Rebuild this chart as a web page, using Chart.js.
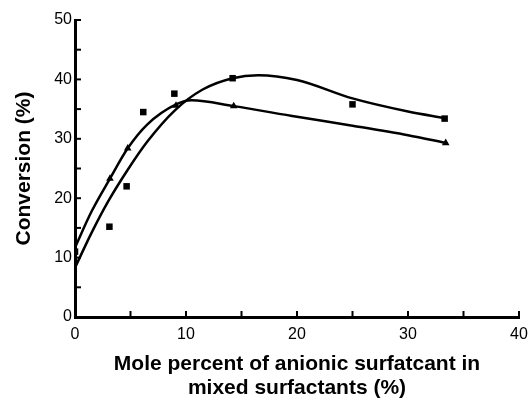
<!DOCTYPE html>
<html>
<head>
<meta charset="utf-8">
<script src="https://cdn.jsdelivr.net/npm/chart.js@4"></script>
<style>
  body { margin: 0; background: #fff; }
</style>
</head>
<body>
<canvas id="chart" width="532" height="402"></canvas>
<script>
// measured points
const sqX = [0, 3.1, 4.65, 6.15, 8.95, 14.2, 25, 33.3];
const sqY = [11.0, 15.2, 22.0, 34.5, 37.6, 40.2, 35.8, 33.4];
const triX = [3.15, 4.75, 9.1, 14.3, 33.4];
const triY = [23.3, 28.4, 35.6, 35.5, 29.3];
// fitted curves
const sqFitX = [0, 1.5, 3, 4.65, 6.5, 9, 11.5, 14.2, 16.5, 20, 25, 30, 33.3];
const sqFitY = [8.3, 14.2, 19.5, 24.5, 29.5, 34.8, 38.3, 40.2, 40.7, 39.9, 36.8, 34.6, 33.5];
const triFitX = [0, 1.5, 3.15, 4.75, 6.5, 9.1, 10.5, 14.3, 20, 25, 30, 33.4];
const triFitY = [11.7, 17.8, 23.3, 28.4, 32.4, 35.8, 36.5, 35.5, 33.7, 32.2, 30.6, 29.3];
const xTickLabels = [0, 10, 20, 30, 40];
const yTickLabels = [0, 10, 20, 30, 40, 50];

const pts = (xs, ys) => xs.map((v, i) => ({x: v, y: ys[i]}));
const FONT = 'Liberation Sans, Arial, Helvetica, sans-serif';

const innerTicks = {
  id: 'innerTicks',
  afterDraw(chart) {
    const {ctx, chartArea: a, scales: {x, y}} = chart;
    ctx.save();
    ctx.strokeStyle = '#000';
    ctx.lineWidth = 2;
    x.ticks.forEach(t => {
      const px = x.getPixelForValue(t.value);
      ctx.beginPath(); ctx.moveTo(px, a.bottom); ctx.lineTo(px, a.bottom - 6); ctx.stroke();
    });
    y.ticks.forEach(t => {
      const py = y.getPixelForValue(t.value);
      ctx.beginPath(); ctx.moveTo(a.left, py); ctx.lineTo(a.left + 6, py); ctx.stroke();
    });
    ctx.restore();
  }
};

new Chart(document.getElementById('chart').getContext('2d'), {
  type: 'scatter',
  data: {
    datasets: [
      {data: pts(sqFitX, sqFitY), showLine: true, borderColor: '#000', borderWidth: 2.5,
       pointRadius: 0, cubicInterpolationMode: 'monotone', fill: false},
      {data: pts(triFitX, triFitY), showLine: true, borderColor: '#000', borderWidth: 2.5,
       pointRadius: 0, cubicInterpolationMode: 'monotone', fill: false},
      {data: pts(sqX, sqY), pointStyle: 'rect', pointRadius: 4.6, backgroundColor: '#000', borderColor: '#000', borderWidth: 0},
      {data: pts(triX, triY), pointStyle: 'triangle', pointRadius: 4.4, backgroundColor: '#000', borderColor: '#000', borderWidth: 0}
    ]
  },
  options: {
    responsive: false,
    animation: false,
    layout: {padding: {left: 0, right: 13, top: 20, bottom: 2}},
    plugins: {legend: {display: false}, tooltip: {enabled: false}},
    scales: {
      x: {
        type: 'linear', min: 0, max: 40,
        grid: {display: true, drawOnChartArea: false, drawTicks: false},
        border: {display: true, color: '#000', width: 3},
        ticks: {
          stepSize: 5, padding: 8, color: '#000', font: {family: FONT, size: 16},
          maxRotation: 0,
          callback: v => xTickLabels.includes(v) ? String(v) : ''
        },
        title: {
          display: true, color: '#000',
          text: ['Mole percent of anionic surfatcant in', 'mixed surfactants (%)'],
          font: {family: FONT, size: 21, weight: 'bold', lineHeight: 1.15},
          padding: {top: 0, bottom: 0}
        },
        afterFit: s => { s.height = 83; s.paddingLeft = 0; s.paddingRight = 0; }
      },
      y: {
        type: 'linear', min: 0, max: 50,
        grid: {display: true, drawOnChartArea: false, drawTicks: false},
        border: {display: true, color: '#000', width: 3},
        ticks: {
          stepSize: 5, padding: 3, color: '#000', font: {family: FONT, size: 16},
          callback: v => yTickLabels.includes(v) ? String(v) : ''
        },
        title: {
          display: true, color: '#000', text: 'Conversion (%)',
          font: {family: FONT, size: 21, weight: 'bold', lineHeight: 1.15},
          padding: {top: 12, bottom: 0}
        },
        afterFit: s => { s.width = 75; s.paddingTop = 0; s.paddingBottom = 0; }
      }
    }
  },
  plugins: [innerTicks]
});
</script>
</body>
</html>
